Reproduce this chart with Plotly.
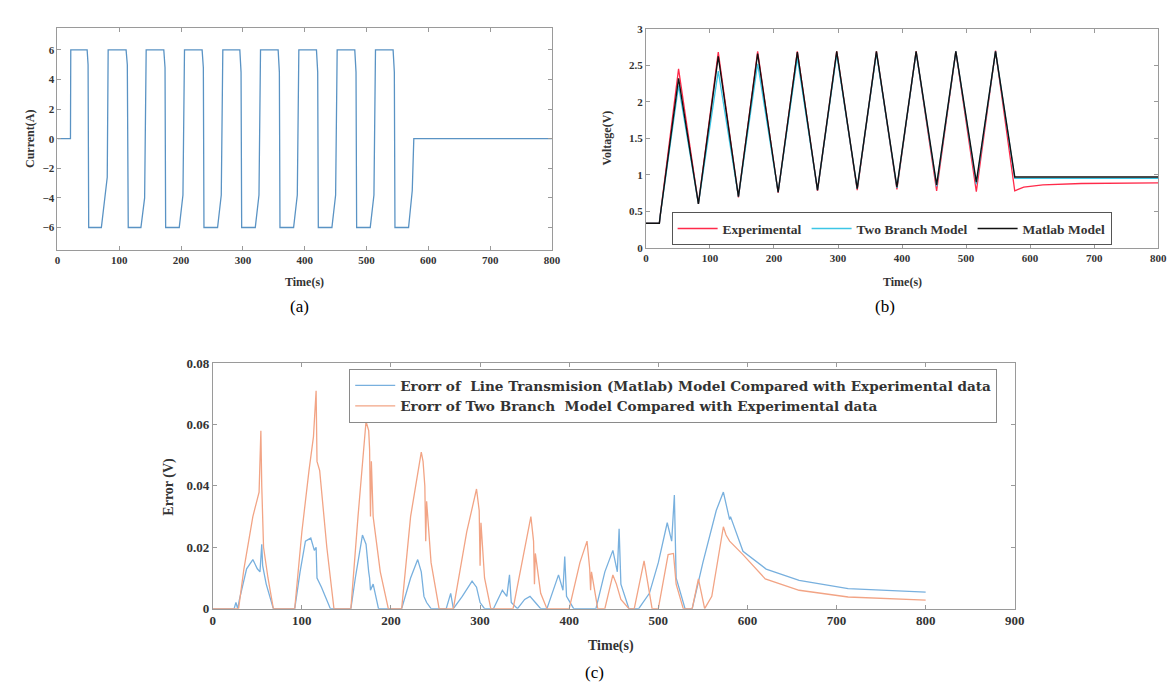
import plotly.graph_objects as go

W, H = 1176, 683

# ---------------- (a) Current ----------------
cur_t = [0, 21, 21.5, 48, 49.5, 50.5, 71, 80.5, 82,
         111, 113, 114.5, 135, 141, 143.5,
         172, 174, 175, 197, 203, 205.5,
         234, 236, 237, 259, 265, 267.5,
         295, 297, 298, 320, 326, 328.5,
         357, 359, 360, 382, 388, 390.5,
         419, 421, 422, 444, 450, 452.5,
         481, 483, 484, 506, 512, 514.5,
         543, 545, 546, 568, 574, 576.5, 800]
cur_i = [0, 0, 6, 6, 5, -6, -6, -2.6, 6,
         6, 5, -6, -6, -4, 6,
         6, 4.8, -6, -6, -3.8, 6,
         6, 4.8, -6, -6, -3.8, 6,
         6, 4.5, -6, -6, -3.8, 6,
         6, 4.5, -6, -6, -3.8, 6,
         6, 4.5, -6, -6, -3.8, 6,
         6, 4.5, -6, -6, -3.8, 6,
         6, 4.5, -6, -6, -3.5, 0, 0]

# ---------------- (b) Voltage ----------------
exp_t = [0, 21, 22.5, 51, 82, 113, 144.5, 174.5, 206.5, 236.5, 268, 298, 330, 360, 392,
         422, 454, 484, 516, 546, 576, 590, 620, 680, 800]
exp_v = [0.335, 0.335, 0.45, 2.45, 0.60, 2.68, 0.69, 2.69, 0.75, 2.69, 0.78, 2.69, 0.79, 2.69, 0.80,
         2.69, 0.78, 2.69, 0.77, 2.70, 0.78, 0.83, 0.86, 0.88, 0.89]
tb_t = [0, 21, 22.5, 51, 82, 113, 144.5, 174.5, 206.5, 236.5, 268, 298, 330, 360, 392,
        422, 454, 484, 516, 546, 576, 800]
tb_v = [0.335, 0.335, 0.45, 2.22, 0.60, 2.42, 0.70, 2.52, 0.76, 2.60, 0.79, 2.65, 0.81, 2.67, 0.82,
        2.68, 0.84, 2.69, 0.87, 2.69, 0.95, 0.95]
ml_t = [0, 21, 22.5, 51, 82, 113, 144.5, 174.5, 206.5, 236.5, 268, 298, 330, 360, 392,
        422, 454, 484, 516, 546, 576, 800]
ml_v = [0.335, 0.335, 0.45, 2.32, 0.60, 2.62, 0.70, 2.66, 0.76, 2.68, 0.79, 2.69, 0.81, 2.69, 0.83,
        2.69, 0.86, 2.69, 0.90, 2.69, 0.97, 0.97]

# ---------------- (c) Errors ----------------
err_ml_t = [0, 24, 26, 28, 30, 38, 45, 50, 53, 55, 56, 60, 68,
            92, 98, 104, 110, 114, 116, 117, 122, 132,
            155, 160, 168, 172, 175, 176, 177, 180, 186,
            212, 222, 230, 234, 237, 240, 245,
            262, 267, 270, 280, 291, 296, 300, 305,
            315, 325, 330, 333, 335, 342, 350, 356, 362, 368,
            375, 388, 393, 395, 397, 405,
            430, 440, 449, 454, 456, 458, 467,
            478, 490, 500, 510, 515, 518, 520, 530,
            538, 550, 565, 573, 578, 580, 581, 595, 621, 658, 713, 800]
err_ml = [0, 0, 0.002, 0, 0.003, 0.013, 0.016, 0.013, 0.012, 0.021, 0.014, 0.008, 0,
          0, 0.012, 0.022, 0.023, 0.019, 0.020, 0.010, 0.007, 0,
          0, 0.010, 0.024, 0.021, 0.012, 0.010, 0.006, 0.008, 0,
          0, 0.010, 0.016, 0.012, 0.004, 0.002, 0,
          0, 0.005, 0, 0.004, 0.009, 0.007, 0.002, 0,
          0, 0.006, 0.004, 0.011, 0.002, 0, 0.003, 0.004, 0.002, 0,
          0, 0.011, 0.006, 0.017, 0.004, 0,
          0, 0.012, 0.019, 0.012, 0.026, 0.008, 0,
          0, 0.005, 0.015, 0.028, 0.022, 0.037, 0.010, 0,
          0, 0.015, 0.032, 0.038, 0.032, 0.029, 0.030, 0.0187, 0.0129, 0.0092, 0.0065, 0.0054]

err_tb_t = [0, 29, 35, 45, 52, 54, 55, 57, 62, 68,
            92, 100, 108, 113, 116, 117, 120, 128, 136,
            155, 163, 172, 175, 176, 177, 178, 180, 188, 197,
            212, 222, 234, 236, 238, 239, 240, 245, 254,
            270, 285, 296, 299, 300, 301, 305, 312,
            337, 350, 357, 360, 361, 362, 368, 375,
            400, 412, 420, 423, 424, 425, 432,
            440, 449, 453, 458, 467,
            473, 484, 493,
            500, 511, 517, 520, 528,
            538, 545, 552,
            560, 573, 576, 580, 595, 620, 658, 713, 800]
err_tb = [0, 0, 0.013, 0.030, 0.038, 0.058, 0.040, 0.020, 0.010, 0,
          0, 0.025, 0.045, 0.056, 0.071, 0.048, 0.045, 0.020, 0,
          0, 0.030, 0.061, 0.058, 0.052, 0.030, 0.048, 0.030, 0.012, 0,
          0, 0.030, 0.051, 0.048, 0.040, 0.022, 0.035, 0.015, 0,
          0, 0.025, 0.039, 0.032, 0.014, 0.028, 0.010, 0,
          0, 0.020, 0.030, 0.022, 0.008, 0.018, 0.005, 0,
          0, 0.015, 0.022, 0.013, 0.006, 0.012, 0,
          0, 0.011, 0.008, 0.003, 0,
          0, 0.0156, 0,
          0, 0.0176, 0.018, 0.008, 0,
          0, 0.0097, 0,
          0.004, 0.0267, 0.024, 0.022, 0.0176, 0.0097, 0.006, 0.0038, 0.0028]

xticks_800 = [0, 100, 200, 300, 400, 500, 600, 700, 800]
xticks_900 = [0, 100, 200, 300, 400, 500, 600, 700, 800, 900]
cur_ticks = [-6, -4, -2, 0, 2, 4, 6]
volt_ticks = [0, 0.5, 1, 1.5, 2, 2.5, 3]
volt_labels = ["0", "0.5", "1", "1.5", "2", "2.5", "3"]
err_ticks = [0, 0.02, 0.04, 0.06, 0.08]
err_labels = ["0", "0.02", "0.04", "0.06", "0.08"]

SERIF = "Liberation Serif, Times New Roman, serif"
WIDE_SERIF = "DejaVu Serif, serif"

fig = go.Figure()
fig.add_trace(go.Scatter(x=cur_t, y=cur_i, mode="lines", line=dict(color="#5a93c4", width=1.3),
                         xaxis="x", yaxis="y", showlegend=False))
fig.add_trace(go.Scatter(x=exp_t, y=exp_v, mode="lines", name="Experimental",
                         line=dict(color="#ff2a4a", width=1.3), xaxis="x2", yaxis="y2", legend="legend2"))
fig.add_trace(go.Scatter(x=tb_t, y=tb_v, mode="lines", name="Two Branch Model",
                         line=dict(color="#3cc6e6", width=1.3), xaxis="x2", yaxis="y2", legend="legend2"))
fig.add_trace(go.Scatter(x=ml_t, y=ml_v, mode="lines", name="Matlab Model",
                         line=dict(color="#111111", width=1.4), xaxis="x2", yaxis="y2", legend="legend2"))
fig.add_trace(go.Scatter(x=err_ml_t, y=err_ml, mode="lines",
                         name="Erorr of \u00a0Line Transmision (Matlab) Model Compared with Experimental data",
                         line=dict(color="#78b0de", width=1.3), xaxis="x3", yaxis="y3", legend="legend"))
fig.add_trace(go.Scatter(x=err_tb_t, y=err_tb, mode="lines",
                         name="Erorr of Two Branch \u00a0Model Compared with Experimental data",
                         line=dict(color="#f2a485", width=1.3), xaxis="x3", yaxis="y3", legend="legend"))

tickfont_s = dict(family=SERIF, size=11, color="#333333", weight="bold")
tickfont_c = dict(family=SERIF, size=13, color="#333333", weight="bold")
axcommon = dict(showline=True, linecolor="#9a9a9a", linewidth=1, mirror="ticks", ticks="inside",
                ticklen=4, tickcolor="#9a9a9a", showgrid=False, zeroline=False)

fig.update_layout(
    width=W, height=H, margin=dict(l=0, r=0, t=0, b=0),
    paper_bgcolor="white", plot_bgcolor="white",
    xaxis=dict(domain=[47 / W, 547 / W], range=[0, 800], tickvals=xticks_800, tickfont=tickfont_s,
               anchor="y", **axcommon),
    yaxis=dict(domain=[1 - 240 / H, 1 - 13 / H], range=[-7.5, 7.5], tickvals=cur_ticks, tickfont=tickfont_s,
               anchor="x", **axcommon),
    xaxis2=dict(domain=[642 / W, 1160 / W], range=[0, 800], tickvals=xticks_800, tickfont=tickfont_s,
                anchor="y2", **axcommon),
    yaxis2=dict(domain=[1 - 238 / H, 1 - 14 / H], range=[0, 3], tickvals=volt_ticks, ticktext=volt_labels,
                tickfont=tickfont_s, anchor="x2", **axcommon),
    xaxis3=dict(domain=[204 / W, 1015 / W], range=[0, 900], tickvals=xticks_900, tickfont=tickfont_c,
                anchor="y3", **axcommon),
    yaxis3=dict(domain=[1 - 607 / H, 1 - 356 / H], range=[0, 0.08], tickvals=err_ticks, ticktext=err_labels,
                tickfont=tickfont_c, anchor="x3", **axcommon),
    legend=dict(x=342 / W, y=1 - 389.5 / H, xanchor="left", yanchor="middle", bgcolor="white",
                bordercolor="#8a8a8a", borderwidth=1,
                font=dict(family=WIDE_SERIF, size=13.6, color="#333333", weight="bold"),
                tracegroupgap=0, itemwidth=40),
    legend2=dict(x=668 / W, y=1 - 218.5 / H, xanchor="left", yanchor="middle", orientation="h", bgcolor="white",
                 bordercolor="#555555", borderwidth=1,
                 font=dict(family=SERIF, size=13.5, color="#333333", weight="bold"),
                 itemwidth=40),
)

ann = []
def title(text, x, y, size=12, angle=0, bold=True, color="#333333"):
    ann.append(dict(text=text, x=x / W, y=1 - y / H, xref="paper", yref="paper", showarrow=False,
                    textangle=angle, font=dict(family=SERIF, size=size, color=color,
                                               weight="bold" if bold else "normal"),
                    xanchor="center", yanchor="middle"))

title("Current(A)", 19, 127, angle=-90)
title("Time(s)", 297, 273)
title("(a)", 292, 298, size=17, bold=False, color="black")
title("Voltage(V)", 603, 126, angle=-90)
title("Time(s)", 901, 273)
title("(b)", 884, 298, size=17, bold=False, color="black")
title("Error (V)", 160, 482, size=14, angle=-90)
title("Time(s)", 607, 645, size=14)
title("(c)", 590, 672, size=17, bold=False, color="black")
fig.update_layout(annotations=ann)

fig.write_html("out.html")
